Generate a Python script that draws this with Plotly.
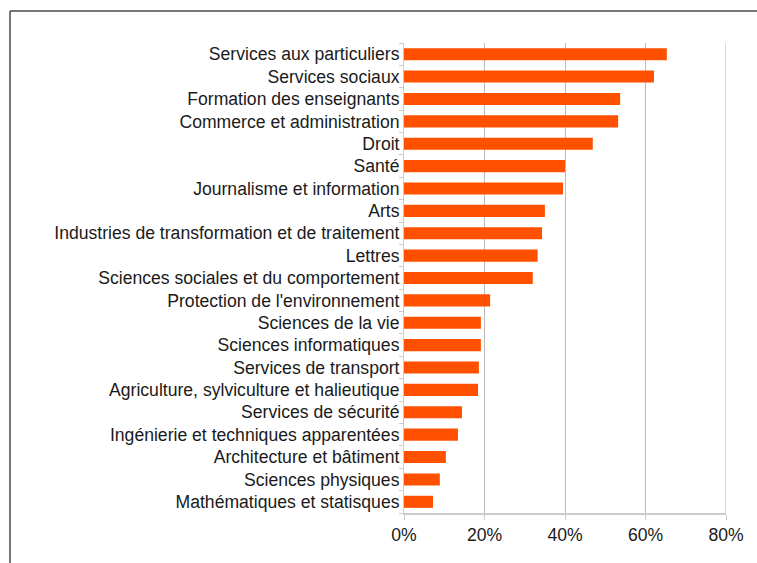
import plotly.graph_objects as go

categories = [
    "Services aux particuliers",
    "Services sociaux",
    "Formation des enseignants",
    "Commerce et administration",
    "Droit",
    "Santé",
    "Journalisme et information",
    "Arts",
    "Industries de transformation et de traitement",
    "Lettres",
    "Sciences sociales et du comportement",
    "Protection de l'environnement",
    "Sciences de la vie",
    "Sciences informatiques",
    "Services de transport",
    "Agriculture, sylviculture et halieutique",
    "Services de sécurité",
    "Ingénierie et techniques apparentées",
    "Architecture et bâtiment",
    "Sciences physiques",
    "Mathématiques et statisques",
]
values = [65.3, 62.1, 53.7, 53.2, 46.9, 40.0, 39.5, 35.0, 34.3, 33.2, 32.0,
          21.4, 19.1, 19.1, 18.6, 18.4, 14.4, 13.4, 10.4, 8.9, 7.2]
x_ticks = [0, 20, 40, 60, 80]
x_tick_labels = ["0%", "20%", "40%", "60%", "80%"]

W, H = 757, 563
L, R, T, B = 404, 31, 43, 50
pw, ph = W - L - R, H - T - B

fig = go.Figure(go.Bar(
    x=values, y=categories, orientation="h",
    marker=dict(color="#FF5000", line=dict(width=0)),
))

font = dict(family="Liberation Sans, Arial, Helvetica, sans-serif", size=17.6, color="#1a1a1a")

fig.update_layout(
    width=W, height=H,
    margin=dict(l=L, r=R, t=T, b=B),
    paper_bgcolor="white", plot_bgcolor="white",
    font=font, showlegend=False, bargap=0.46,
    xaxis=dict(range=[0, 80], tickvals=x_ticks, ticktext=x_tick_labels,
               showgrid=True, gridcolor="#bbbbbb", gridwidth=1,
               showline=True, linecolor="#cccccc", linewidth=2,
               ticks="outside", ticklen=5, tickcolor="#cccccc",
               zeroline=False, tickfont=font),
    yaxis=dict(categoryorder="array", categoryarray=categories[::-1],
               showline=True, linecolor="#cccccc", linewidth=1,
               ticks="outside", ticklen=4, tickcolor="#cccccc",
               tickson="boundaries", showgrid=False, tickfont=font),
)

# right edge light line at 80%
fig.add_shape(type="line", xref="x", yref="paper", x0=80, x1=80, y0=0, y1=1,
              line=dict(color="#d8d8d8", width=2))

# outer frame: only top and left edges are inside the picture
fx0 = (10 - L) / pw
fy1 = 1 + (T - 11) / ph
fx1 = (W + 60 - L) / pw
fy0 = -(H + 60 - (H - B)) / ph
frame = dict(color="#4a4a4a", width=1.5)
fig.add_shape(type="line", xref="paper", yref="paper", x0=fx0, x1=fx1, y0=fy1, y1=fy1,
              line=frame, layer="above")
fig.add_shape(type="line", xref="paper", yref="paper", x0=fx0, x1=fx0, y0=fy0, y1=fy1,
              line=frame, layer="above")

fig.write_html("out.html", config={"displayModeBar": False},
               post_script="document.body.style.margin='0';document.body.style.overflow='hidden';")
